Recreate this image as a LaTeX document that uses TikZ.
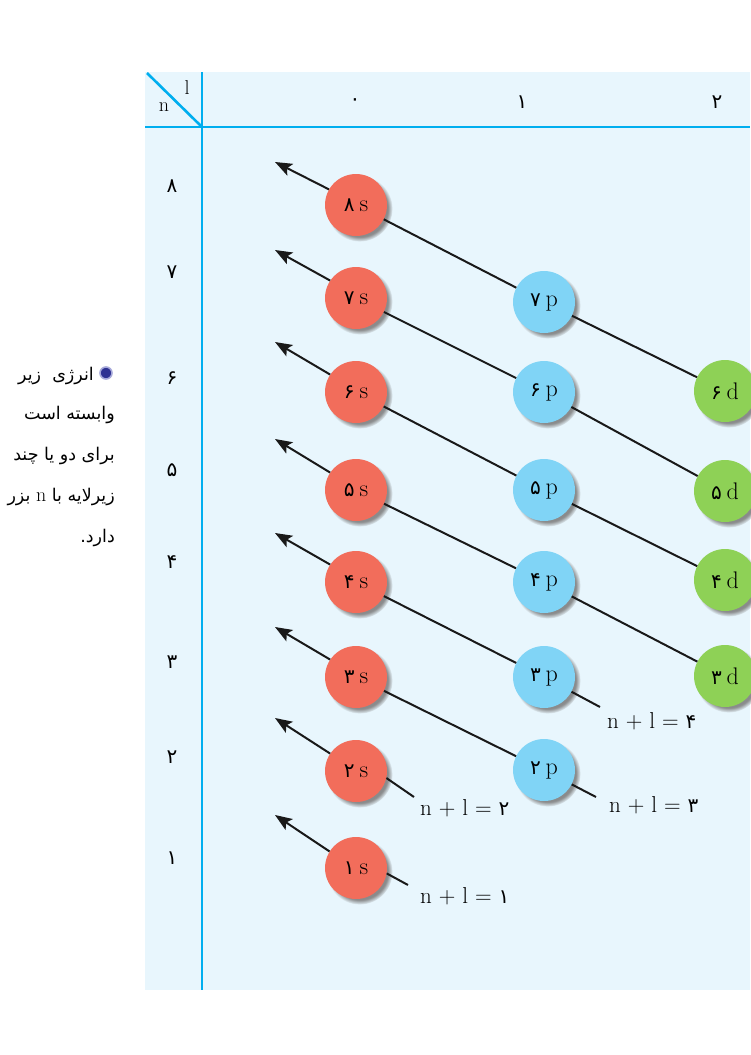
\documentclass[tikz,border=0pt]{standalone}
\usepackage{fontspec}
\usetikzlibrary{arrows.meta,shadows,fadings}
\newfontfamily\fafont[Script=Arabic]{DejaVu Sans}
\TeXXeTstate=1
\definecolor{panelbg}{HTML}{E8F6FD}
\definecolor{rulecol}{HTML}{00AEEF}
\definecolor{sred}{HTML}{F26D5B}
\definecolor{pblue}{HTML}{80D4F6}
\definecolor{dgreen}{HTML}{8ED156}
\definecolor{bulletcol}{HTML}{2E3192}
\definecolor{bulletring}{HTML}{A7A9DA}
\newcommand\orbtext[2]{{\fafont\fontsize{20}{20}\selectfont #1}\hspace{5pt}#2}
\begin{document}
\begin{tikzpicture}[x=1pt,y=-1pt,
  orb/.style={circle,minimum size=62pt,inner sep=0pt,
    circular drop shadow={shadow xshift=3.5pt,shadow yshift=-3.5pt,shadow scale=1.06,opacity=0.9},
    font=\fontsize{24}{24}\selectfont},
  sorb/.style={orb,fill=sred},
  porb/.style={orb,fill=pblue},
  dorb/.style={orb,fill=dgreen},
  conn/.style={line width=2pt,black!90},
  arr/.style={conn,-{Stealth[length=17pt,width=13pt,inset=3.5pt]}},
  sumlbl/.style={anchor=west,inner sep=0pt,font=\fontsize{23}{24}\selectfont},
  axisline/.style={rulecol,line width=2.6pt},
  rowlbl/.style={font=\fafont\fontsize{20}{20}\selectfont,inner sep=0pt},
  ptext/.style={anchor=east,inner sep=0pt,font=\fafont\fontsize{17.5}{20}\selectfont}
]
\useasboundingbox (0,0) rectangle (750,1055);
\fill[white] (0,0) rectangle (750,1055);

% side text
\node[circle,fill=bulletcol,draw=bulletring,line width=1.6pt,minimum size=12pt,inner sep=0pt] (bul) at (106,373) {};
\node[ptext] (t1) at (94,376) {\beginR انرژی\ \ زیر\endR};
\node[ptext] (t2) at (115,415) {\beginR وابسته است\endR};
\node[ptext] (t3) at (115,456) {\beginR برای دو یا چند\endR};
\node[ptext] (t4) at (115,497) {\beginR زیرلایه با {\rmfamily\fontsize{20}{20}\selectfont n} بزر\endR};
\node[ptext] (t5) at (115,538) {\beginR دارد.\endR};

% panel
\fill[panelbg] (145,72) rectangle (750,990);
\draw[axisline] (145,127) -- (750,127);
\draw[axisline] (202,72) -- (202,990);
\draw[axisline] (147,73) -- (202,127);
\node[font=\fontsize{20}{20}\selectfont,inner sep=0pt] (lhead) at (187,88) {l};
\node[font=\fontsize{20}{20}\selectfont,inner sep=0pt] (nhead) at (164,107) {n};

% column headings
\node[rowlbl] (c0) at (355,102) {۰};
\node[rowlbl] (c1) at (522,102) {۱};
\node[rowlbl] (c2) at (717,102) {۲};

% row headings
\node[rowlbl] (r8) at (172,186) {۸};
\node[rowlbl] (r7) at (172,272) {۷};
\node[rowlbl] (r6) at (172,378) {۶};
\node[rowlbl] (r5) at (172,470) {۵};
\node[rowlbl] (r4) at (172,562) {۴};
\node[rowlbl] (r3) at (172,662) {۳};
\node[rowlbl] (r2) at (172,757) {۲};
\node[rowlbl] (r1) at (172,858) {۱};

% orbitals
\node[sorb] (s8) at (356,205) {\orbtext{۸}{s}};
\node[sorb] (s7) at (356,298) {\orbtext{۷}{s}};
\node[sorb] (s6) at (356,392) {\orbtext{۶}{s}};
\node[sorb] (s5) at (356,490) {\orbtext{۵}{s}};
\node[sorb] (s4) at (356,582) {\orbtext{۴}{s}};
\node[sorb] (s3) at (356,677) {\orbtext{۳}{s}};
\node[sorb] (s2) at (356,771) {\orbtext{۲}{s}};
\node[sorb] (s1) at (356,868) {\orbtext{۱}{s}};

\node[porb] (p7) at (544,302) {\orbtext{۷}{p}};
\node[porb] (p6) at (544,392) {\orbtext{۶}{p}};
\node[porb] (p5) at (544,490) {\orbtext{۵}{p}};
\node[porb] (p4) at (544,582) {\orbtext{۴}{p}};
\node[porb] (p3) at (544,677) {\orbtext{۳}{p}};
\node[porb] (p2) at (544,770) {\orbtext{۲}{p}};

\node[dorb] (d6) at (725,391) {\orbtext{۶}{d}};
\node[dorb] (d5) at (725,491) {\orbtext{۵}{d}};
\node[dorb] (d4) at (725,580) {\orbtext{۴}{d}};
\node[dorb] (d3) at (725,676) {\orbtext{۳}{d}};

% arrow tips and free ends
\coordinate (a8) at (275,162);
\coordinate (a7) at (275,250);
\coordinate (a6) at (275,342);
\coordinate (a5) at (275,439);
\coordinate (a4) at (275,533);
\coordinate (a3) at (275,627);
\coordinate (a2) at (275,718);
\coordinate (a1) at (275,815);
\coordinate (e4) at (600,707);
\coordinate (e3) at (596,797);
\coordinate (e2) at (414,797);
\coordinate (e1) at (408,885);

% diagonals
\draw[conn] (d6) -- (p7) -- (s8);
\draw[conn] (d5) -- (p6) -- (s7);
\draw[conn] (d4) -- (p5) -- (s6);
\draw[conn] (d3) -- (p4) -- (s5);
\draw[conn] (e4) -- (p3) -- (s4);
\draw[conn] (e3) -- (p2) -- (s3);
\draw[conn] (e2) -- (s2.-13);
\draw[conn] (e1) -- (s1.-10);

\draw[arr] (s8.150) -- (a8);
\draw[arr] (s7.146) -- (a7);
\draw[arr] (s6.146) -- (a6);
\draw[arr] (s5.146) -- (a5);
\draw[arr] (s4.146) -- (a4);
\draw[arr] (s3.146) -- (a3);
\draw[arr] (s2.146) -- (a2);
\draw[arr] (s1.148) -- (a1);

% n+l labels
\node[sumlbl] (L4) at (607,721) {n + l = {\fafont\fontsize{20}{20}\selectfont ۴}};
\node[sumlbl] (L3) at (609,805) {n + l = {\fafont\fontsize{20}{20}\selectfont ۳}};
\node[sumlbl] (L2) at (420,808) {n + l = {\fafont\fontsize{20}{20}\selectfont ۲}};
\node[sumlbl] (L1) at (420,896) {n + l = {\fafont\fontsize{20}{20}\selectfont ۱}};
\end{tikzpicture}
\end{document}
